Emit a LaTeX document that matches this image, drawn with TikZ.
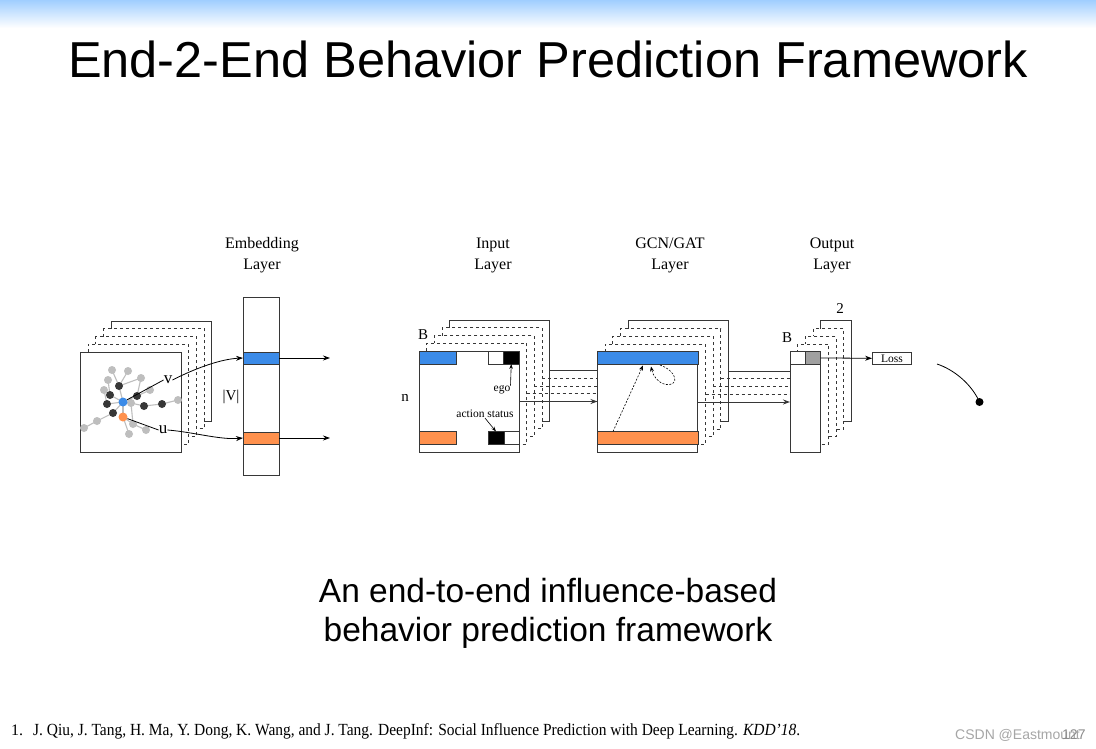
\documentclass[tikz,border=0pt]{standalone}
\usepackage{fontspec}
\usepackage{graphicx}
\setmainfont{Liberation Serif}
\newfontfamily\sansf{Liberation Sans}
\usetikzlibrary{arrows.meta}
\definecolor{bandblue}{RGB}{59,139,232}
\definecolor{bandorange}{RGB}{255,145,77}
\definecolor{topblue}{RGB}{160,206,255}
\definecolor{framecol}{RGB}{55,55,55}
\definecolor{nodedark}{RGB}{55,55,55}
\definecolor{nodelight}{RGB}{190,190,190}
\definecolor{cellgray}{RGB}{160,160,160}
\tikzset{
  frame/.style={draw=framecol,fill=white,line width=0.9pt,inner sep=0pt,outer sep=0pt,rectangle},
  band/.style={draw=framecol,line width=0.6pt,inner sep=0pt,outer sep=0pt,rectangle,anchor=north west},
  conn/.style={draw=framecol,line width=0.9pt},
  arr/.style={draw=black,line width=0.8pt,-{Stealth[length=7pt,width=5pt]}},
  thinarr/.style={draw=black,line width=0.6pt,-{Stealth[length=5pt,width=3.5pt]}},
  dotarr/.style={draw=black,line width=0.6pt,dash pattern=on 2pt off 1.5pt,-{Stealth[length=5pt,width=4pt]}},
  lab/.style={font=\fontsize{16}{21}\selectfont,align=center,inner sep=0pt},
  small/.style={font=\fontsize{11.5}{13}\selectfont,inner sep=0pt},
  gd/.style={circle,fill=nodedark,minimum size=8pt,inner sep=0pt},
  gl/.style={circle,fill=nodelight,minimum size=8pt,inner sep=0pt},
  gedge/.style={draw=nodelight,line width=1.1pt},
}
\newcommand\mystack[5]{%
  \foreach \k/\sty in {4/solid,3/dashed,2/dashed,1/dashed}{
    \node[frame,\sty,minimum width=#4pt,minimum height=#5pt,anchor=north west] (#1-\k) at ({#2+7.7*\k},{#3-7.7*\k}) {};
  }
  \node[frame,minimum width=#4pt,minimum height=#5pt,anchor=north west] (#1-0) at (#2,#3) {};
}
\begin{document}
\begin{tikzpicture}[x=1pt,y=-1pt]
\useasboundingbox (0,0) rectangle (1096,749);
\fill[white] (0,0) rectangle (1096,749);
\begin{scope}[y=1pt]
\shade[top color=topblue,bottom color=white] (0,0) rectangle (1096,-28);
\end{scope}

% title
\node[font=\sansf\fontsize{50.5}{60}\selectfont,anchor=base,inner sep=0pt] (title) at (548,78) {End-2-End Behavior Prediction Framework};

% layer labels
\node[lab] (lemb) at (262,255) {Embedding\\Layer};
\node[lab] (linp) at (493,255) {Input\\Layer};
\node[lab] (lgcn) at (670,255) {GCN/GAT\\Layer};
\node[lab] (lout) at (832,255) {Output\\Layer};

% ---------- embedding stack ----------
\mystack{emb}{80.5}{352}{100.5}{100}
% graph
\foreach \n/\x/\y in {d1/119/386,d2/110/395,d3/107/404,d4/113/413,d5/137/396,d6/144/406,d7/162/404}
  \coordinate (\n) at (\x,\y);
\foreach \n/\x/\y in {l1/112/370,l2/128/371,l3/141/378,l4/108/380,l5/104/390,l6/150/390,l7/131/403,l8/178/400,l9/97/421,l10/84/428,l11/133/424,l12/146/430,l13/129/434}
  \coordinate (\n) at (\x,\y);
\coordinate (gB) at (123,402);
\coordinate (gO) at (123,417);
\foreach \a/\b in {l1/d1,l2/d1,d1/l3,l4/d2,l5/d3,d1/gB,d2/gB,d3/gB,d4/gB,gB/d5,d5/l3,gB/l7,l7/d6,d6/d7,d7/l8,d5/l6,d4/l9,l9/l10,gB/gO,gO/l11,l11/l12,gO/l13,l7/l11}
  \draw[gedge] (\a) -- (\b);
\foreach \n in {l1,l2,l3,l4,l5,l6,l7,l8,l9,l10,l11,l12,l13}
  \node[gl] (n\n) at (\n) {};
\foreach \n in {d1,d2,d3,d4,d5,d6,d7}
  \node[gd] (n\n) at (\n) {};
\node[circle,fill=bandblue,minimum size=9pt,inner sep=0pt] (nB) at (gB) {};
\node[circle,fill=bandorange,minimum size=9pt,inner sep=0pt] (nO) at (gO) {};
\node[lab,font=\fontsize{17}{21}\selectfont] (vlab) at (168,380) {v};
\node[lab,font=\fontsize{17}{21}\selectfont] (ulab) at (163,430) {u};

% embedding column
\node[frame,minimum width=36pt,minimum height=178pt,anchor=north west] (emb) at (243,297) {};
\node[band,fill=bandblue,minimum width=36pt,minimum height=12pt] (eb) at (243,352) {};
\node[band,fill=bandorange,minimum width=36pt,minimum height=12pt] (eo) at (243,432) {};
\node[lab,font=\fontsize{15}{18}\selectfont] (vsize) at (231,397) {|V|};
\coordinate (ebend) at (330,358);
\coordinate (eoend) at (330,438);
\draw[arr] (eb.east) -- (ebend);
\draw[arr] (eo.east) -- (eoend);
\draw[line width=0.8pt] (nB) -- (vlab.west);
\draw[line width=0.8pt] (nO) -- (ulab.west);
\draw[arr] (vlab.east) .. controls (198,367) and (222,359) .. (eb.west);
\draw[arr] (ulab.east) .. controls (193,432) and (220,440) .. (eo.west);

% ---------- input stack ----------
\mystack{inp}{419}{351}{100}{101}
\node[band,fill=bandblue,minimum width=37pt,minimum height=13pt] (ib) at (419,351) {};
\node[band,fill=bandorange,minimum width=37pt,minimum height=13pt] (io) at (419,431.5) {};
\node[band,fill=white,minimum width=15.5pt,minimum height=13pt] (iw1) at (488,351) {};
\node[band,fill=black,minimum width=15.5pt,minimum height=13pt] (ik1) at (503.5,351) {};
\node[band,fill=black,minimum width=16pt,minimum height=13pt] (ik2) at (488,431.5) {};
\node[band,fill=white,minimum width=15pt,minimum height=13pt] (iw2) at (504,431.5) {};
\node[small] (ego) at (502,390) {ego};
\node[small] (act) at (485,414) {action status};
\draw[thinarr] (ego.north east) -- (ik1.south);
\draw[thinarr] (act.south) -- (ik2.north);
\node[lab,font=\fontsize{15}{18}\selectfont] (iB) at (423,335) {B};
\node[lab,font=\fontsize{15}{18}\selectfont] (in) at (405,398) {n};

% ---------- GCN stack ----------
\mystack{gcn}{597.5}{351.7}{100.3}{100.6}
\node[band,fill=bandblue,minimum width=100.3pt,minimum height=12.5pt] (gb) at (597.5,351.7) {};
\node[band,fill=bandorange,minimum width=100.3pt,minimum height=12.3pt] (go) at (597.5,431.7) {};
\coordinate (gfrom) at (613,431.5);
\coordinate (gto) at (643,365.5);
\draw[dotarr] (gfrom) -- (gto);
\coordinate (lps) at (660,365);
\coordinate (lpe) at (651,366.5);
\draw[dotarr] (lps) .. controls (677,371) and (680,386) .. (666,384.5) .. controls (658,383) and (653,376) .. (lpe);

% ---------- output stack ----------
\mystack{out}{790}{351.7}{30.7}{100.6}
\node[band,fill=white,minimum width=15pt,minimum height=12.5pt] (ow) at (790,351.7) {};
\node[band,fill=cellgray,minimum width=15.7pt,minimum height=12.5pt] (og) at (805,351.7) {};
\node[lab,font=\fontsize{15}{18}\selectfont] (oB) at (787,338) {B};
\node[lab,font=\fontsize{15}{18}\selectfont] (o2) at (840,309) {2};
\node[draw=framecol,line width=0.8pt,minimum width=39pt,minimum height=12pt,inner sep=0pt,font=\fontsize{11.5}{13}\selectfont] (loss) at (892,358.3) {Loss};
\draw[arr] (og.east) -- (loss.west);

% ---------- connectors ----------
\foreach \k/\sty in {4/solid,3/dashed,2/dashed,1/dashed}{
  \draw[conn,\sty] (inp-\k.east) -- (inp-\k.east -| gcn-0.west);
  \draw[conn,\sty] (gcn-\k.east) -- (gcn-\k.east -| out-0.west);
}
\draw[conn,-{Stealth[length=7pt,width=5pt]}] (inp-0.east) -- (inp-0.east -| gcn-0.west);
\draw[conn,-{Stealth[length=7pt,width=5pt]}] (gcn-0.east) -- (gcn-0.east -| out-0.west);

% far right curve
\node[circle,fill=black,minimum size=8pt,inner sep=0pt] (dot) at (979.5,402) {};
\coordinate (cstart) at (937,364);
\draw[line width=0.8pt] (cstart) .. controls (955,370) and (972,385) .. (dot.center);

% subtitle
\node[font=\sansf\fontsize{33.5}{40}\selectfont,anchor=base,inner sep=0pt] (sub1) at (548,602) {An end-to-end influence-based};
\node[font=\sansf\fontsize{33.5}{40}\selectfont,anchor=base,inner sep=0pt] (sub2) at (548,641) {behavior prediction framework};

% footnote
\node[anchor=base west,inner sep=0pt,font=\fontsize{16}{18}\selectfont] (fnum) at (11,735) {1.};
\node[anchor=base west,inner sep=0pt,font=\fontsize{17}{19}\selectfont] (fref) at (33,735) {\resizebox{767pt}{\height}{J. Qiu, J. Tang, H. Ma, Y. Dong, K. Wang, and J. Tang. DeepInf: Social Influence Prediction with Deep Learning. \textit{KDD'18}.}};
\node[anchor=base west,inner sep=0pt,font=\sansf\fontsize{14}{16}\selectfont,text=black!35] (wm) at (955,739) {CSDN @Eastmount};
\node[anchor=base west,inner sep=0pt,font=\sansf\fontsize{14}{16}\selectfont,text=black!45] (pg) at (1062,739) {127};
\end{tikzpicture}
\end{document}
